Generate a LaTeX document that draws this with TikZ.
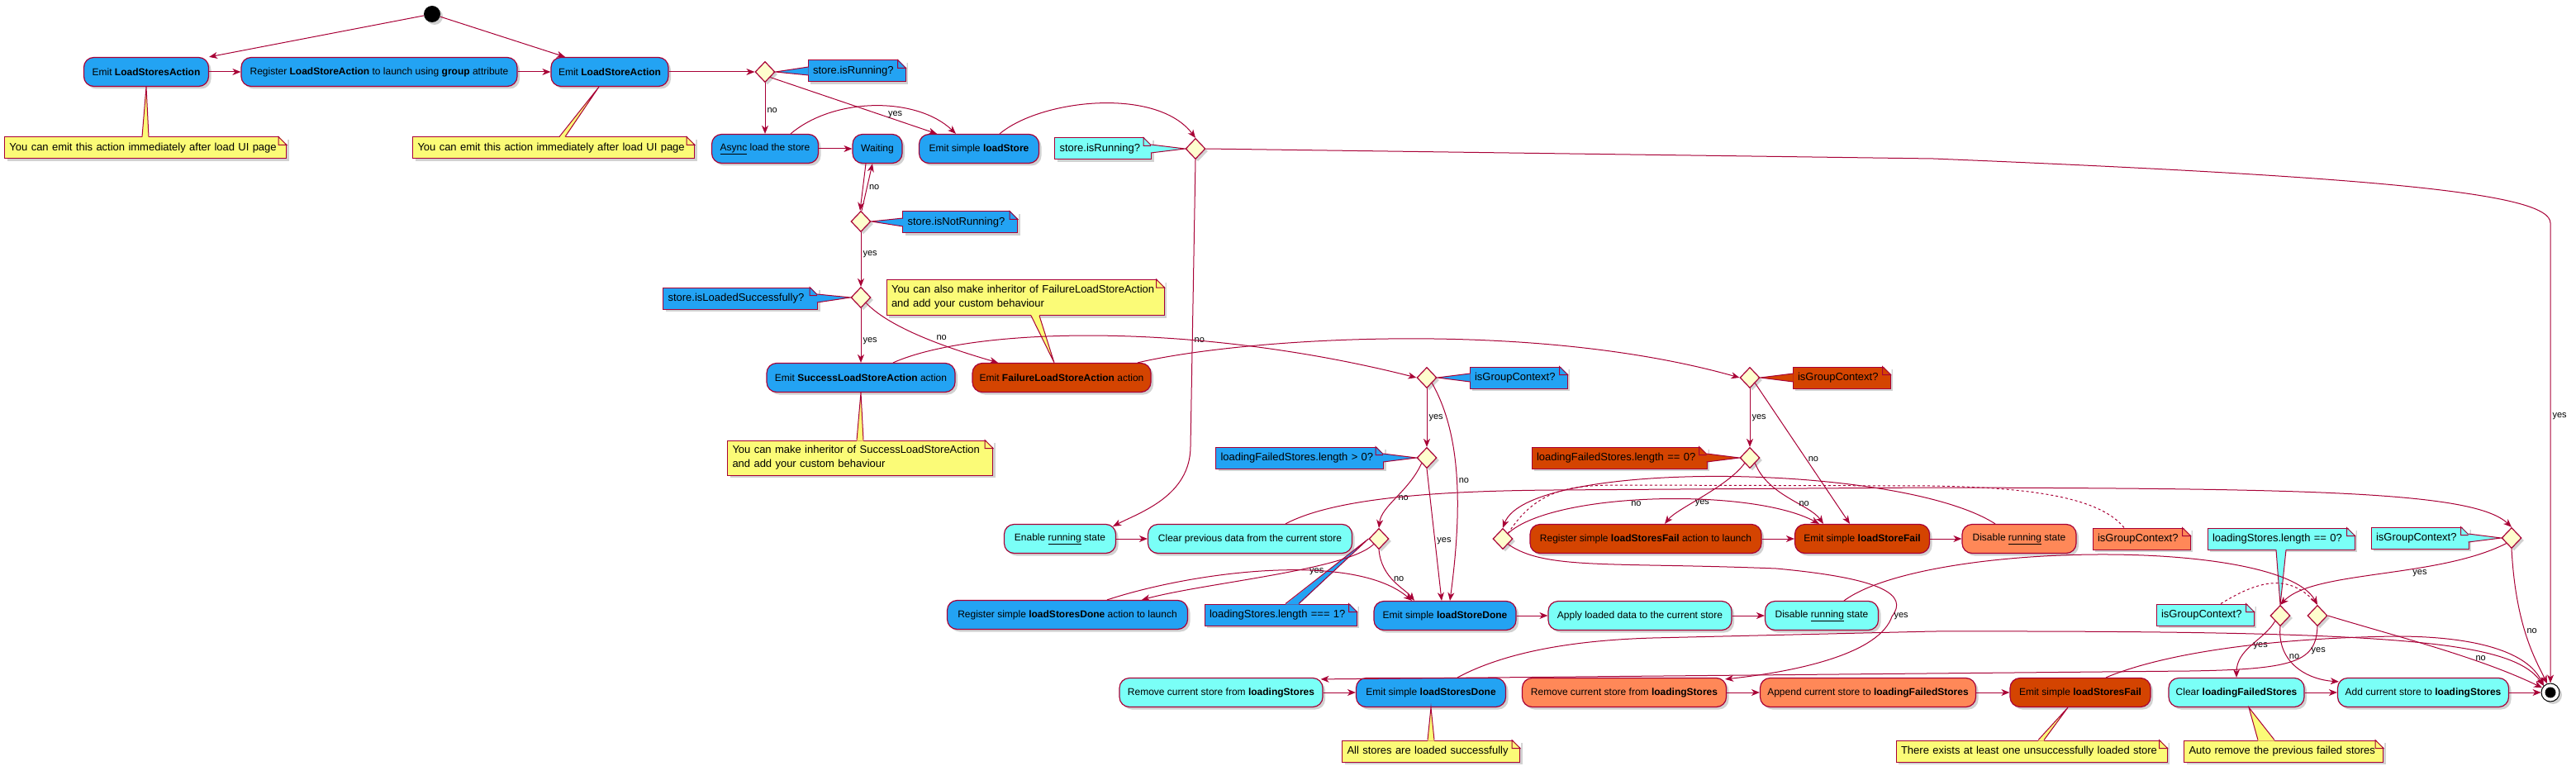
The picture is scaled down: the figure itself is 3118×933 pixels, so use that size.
\documentclass[tikz,border=0pt]{standalone}
\usepackage{fontspec}
\setmainfont{Liberation Sans}
\usetikzlibrary{arrows.meta,shapes.geometric,shadows}

\definecolor{umlred}{HTML}{A80036}
\definecolor{actblue}{HTML}{23A3F3}
\definecolor{actcyan}{HTML}{7AFFF7}
\definecolor{actred}{HTML}{D44401}
\definecolor{actorange}{HTML}{FF8858}
\definecolor{noteyellow}{HTML}{FBFB77}
\definecolor{condfill}{HTML}{FEFECE}

\tikzset{
  umlshadow/.style={drop shadow={shadow xshift=3pt,shadow yshift=-3pt,opacity=.3,fill=black!60}},
  act/.style={draw=umlred, line width=1.2pt, rounded corners=12pt, minimum height=35pt, inner xsep=0pt, font=\fontsize{12}{14}\selectfont, umlshadow},
  blueact/.style={act, fill=actblue},
  cyanact/.style={act, fill=actcyan},
  redact/.style={act, fill=actred},
  orangeact/.style={act, fill=actorange},
  cond/.style={diamond, draw=umlred, line width=1.2pt, fill=condfill, minimum width=24pt, minimum height=25pt, inner sep=0pt, umlshadow},
  note/.style={draw=umlred, line width=1pt, minimum height=26pt, inner xsep=6pt, align=left, font=\fontsize{13}{17}\selectfont, umlshadow},
  flow/.style={draw=umlred, line width=1pt, -{Stealth[length=10pt,width=8pt,inset=3pt]}},
  dashlink/.style={draw=umlred, line width=1pt, dashed},
  wedge/.style={draw=umlred, line width=1pt},
  lbl/.style={font=\fontsize{11}{13}\selectfont, inner sep=2pt},
}

\begin{document}
\begin{tikzpicture}[x=1pt,y=-1pt]
\useasboundingbox (0,0) rectangle (3118,933);

%Start
\node[circle, fill=black, minimum size=20pt, inner sep=0pt, umlshadow] (start) at (523,17) {};

% Text Node
\node[blueact, minimum width=151pt] (emitStores) at (177,87) {Emit \textbf{LoadStoresAction}};
\node[blueact, minimum width=334pt] (registerGroup) at (459,87) {Register \textbf{LoadStoreAction} to launch using \textbf{group} attribute};
\node[blueact, minimum width=142pt] (emitStore) at (738,87) {Emit \textbf{LoadStoreAction}};
\node[note, fill=noteyellow, text width=329pt] (noteEmitStores) at (176,179) {You can emit this action immediately after load UI page};
\node[note, fill=noteyellow, text width=329pt] (noteEmitStore) at (670,179) {You can emit this action immediately after load UI page};

%Shape: Diamond
\node[cond] (ifRunning) at (926,87) {};
\node[note, fill=actblue, text width=106pt] (noteRunning) at (1037,86) {store.isRunning?};
\node[blueact, minimum width=129pt] (asyncLoad) at (926,180) {\underline{Async} load the store};
\node[blueact, minimum width=60pt] (waiting) at (1062,180) {Waiting};
\node[blueact, minimum width=145pt] (emitSimpleLoad) at (1185,180) {Emit simple \textbf{loadStore}};
\node[cond] (ifRunningAgain) at (1447,180) {};
\node[note, fill=actcyan, text width=105pt] (noteRunningAgain) at (1335,180) {store.isRunning?};
\node[cond] (ifNotRunning) at (1042,268) {};
\node[note, fill=actblue, text width=127pt] (noteNotRunning) at (1162,269) {store.isNotRunning?};
\node[cond] (ifLoaded) at (1042,360) {};
\node[note, fill=actblue, text width=175pt] (noteLoaded) at (896,361) {store.isLoadedSuccessfully?};

% Text Node
\node[blueact, minimum width=228pt] (emitSuccess) at (1042,457) {Emit \textbf{SuccessLoadStoreAction} action};
\node[redact, minimum width=216pt] (emitFailure) at (1285,457) {Emit \textbf{FailureLoadStoreAction} action};
\node[note, fill=noteyellow, text width=324pt, minimum height=43pt] (noteFailure) at (1241,360) {You can also make inheritor of FailureLoadStoreAction\\and add your custom behaviour};
\node[note, fill=noteyellow, text width=309pt, minimum height=42pt] (noteSuccess) at (1041,554) {You can make inheritor of SuccessLoadStoreAction\\and add your custom behaviour};

%Shape: Diamond
\node[cond] (ifGroupOk) at (1727,457) {};
\node[note, fill=actblue, text width=106pt] (noteGroupOk) at (1838,457) {isGroupContext?};
\node[cond] (ifFailedAny) at (1727,554) {};
\node[note, fill=actblue, text width=191pt] (noteFailedAny) at (1573,554) {loadingFailedStores.length > 0?};
\node[cond] (ifGroupFail) at (2118,457) {};
\node[note, fill=actred, text width=106pt] (noteGroupFail) at (2229,457) {isGroupContext?};
\node[cond] (ifFailedNone) at (2118,554) {};
\node[note, fill=actred, text width=200pt] (noteFailedNone) at (1960,554) {loadingFailedStores.length == 0?};

% Text Node
\node[cyanact, minimum width=135pt] (enableRun) at (1283,652) {Enable \underline{running} state};
\node[cyanact, minimum width=247pt] (clearData) at (1513,652) {Clear previous data from the current store};
\node[cond] (ifLastStore) at (1669,652) {};
\node[note, fill=actblue, text width=172pt] (noteLastStore) at (1550,744) {loadingStores.length === 1?};
\node[cond] (ifGroupErr) at (1819,652) {};
\node[redact, minimum width=280pt] (registerFail) at (1992,652) {Register simple \textbf{loadStoresFail} action to launch};
\node[redact, minimum width=163pt] (emitFail) at (2254,652) {Emit simple \textbf{loadStoreFail}};
\node[orangeact, minimum width=138pt] (disableFail) at (2444,652) {Disable \underline{running} state};
\node[note, fill=actorange, text width=106pt] (noteGroupErr) at (2592,652) {isGroupContext?};
\node[note, fill=actcyan, text width=166pt] (noteLoadingEmpty) at (2761,652) {loadingStores.length == 0?};
\node[note, fill=actcyan, text width=106pt] (noteGroupStart) at (2929,651) {isGroupContext?};
\node[cond] (ifGroupStart) at (3040,651) {};

\node[blueact, minimum width=291pt] (registerDone) at (1292,744) {Register simple \textbf{loadStoresDone} action to launch};
\node[blueact, minimum width=172pt] (emitDone) at (1749,745) {Emit simple \textbf{loadStoreDone}};
\node[cyanact, minimum width=222pt] (applyData) at (1985,745) {Apply loaded data to the current store};
\node[cyanact, minimum width=137pt] (disableOk) at (2205,745) {Disable \underline{running} state};
\node[note, fill=actcyan, text width=106pt] (noteGroupDone) at (2669,744) {isGroupContext?};
\node[cond] (ifLoadingEmpty) at (2760,745) {};
\node[cond] (ifGroupDone) at (2805,745) {};

\node[cyanact, minimum width=246pt] (removeOk) at (1478,838) {Remove current store from \textbf{loadingStores}};
\node[blueact, minimum width=181pt] (emitAllDone) at (1732,838) {Emit simple \textbf{loadStoresDone}};
\node[orangeact, minimum width=247pt] (removeFail) at (1966,838) {Remove current store from \textbf{loadingStores}};
\node[orangeact, minimum width=261pt] (appendFail) at (2261,838) {Append current store to \textbf{loadingFailedStores}};
\node[redact, minimum width=170pt] (emitAllFail) at (2518,838) {Emit simple \textbf{loadStoresFail}};
\node[cyanact, minimum width=164pt] (clearFailed) at (2707,838) {Clear \textbf{loadingFailedStores}};
\node[cyanact, minimum width=207pt] (addLoading) at (2933,838) {Add current store to \textbf{loadingStores}};
\node[note, fill=noteyellow, text width=203pt] (noteAllDone) at (1732,909) {All stores are loaded successfully};
\node[note, fill=noteyellow, text width=316pt] (noteAllFail) at (2459,909) {There exists at least one unsuccessfully loaded store};
\node[note, fill=noteyellow, text width=229pt] (noteAutoRemove) at (2764,909) {Auto remove the previous failed stores};

%End
\node[circle, draw=black, line width=1pt, fill=white, minimum size=22pt, inner sep=0pt, umlshadow,
  path picture={\fill[black] (path picture bounding box.center) circle (6.5pt);}] (stop) at (3087,838) {};

% folded corners of the notes
\foreach \nte in {noteEmitStores, noteEmitStore, noteRunning, noteRunningAgain, noteNotRunning, noteLoaded, noteFailure, noteSuccess, noteGroupOk, noteFailedAny, noteGroupFail, noteFailedNone, noteLastStore, noteGroupErr, noteLoadingEmpty, noteGroupStart, noteGroupDone, noteAllDone, noteAllFail, noteAutoRemove} {
  \fill[white] ([xshift=-10pt,yshift=1pt]\nte.north east) -- ([xshift=1pt,yshift=1pt]\nte.north east) -- ([xshift=1pt,yshift=-10pt]\nte.north east) -- cycle;
  \draw[wedge] ([xshift=-10pt]\nte.north east) |- ([yshift=-10pt]\nte.north east) -- cycle;
}

% pointers of the notes
\foreach \cnd/\nte/\col in {ifRunning/noteRunning/actblue, ifNotRunning/noteNotRunning/actblue, ifGroupOk/noteGroupOk/actblue, ifGroupFail/noteGroupFail/actred} {
  \fill[fill=\col] ([xshift=1pt,yshift=5pt]\nte.west) -- (\cnd.east) -- ([xshift=1pt,yshift=-5pt]\nte.west) -- cycle;
  \draw[wedge] ([xshift=1pt,yshift=5pt]\nte.west) -- (\cnd.east) -- ([xshift=1pt,yshift=-5pt]\nte.west);
}
\foreach \cnd/\nte/\col in {ifRunningAgain/noteRunningAgain/actcyan, ifLoaded/noteLoaded/actblue, ifFailedAny/noteFailedAny/actblue, ifFailedNone/noteFailedNone/actred, ifGroupStart/noteGroupStart/actcyan} {
  \fill[fill=\col] ([xshift=-1pt,yshift=5pt]\nte.east) -- (\cnd.west) -- ([xshift=-1pt,yshift=-5pt]\nte.east) -- cycle;
  \draw[wedge] ([xshift=-1pt,yshift=5pt]\nte.east) -- (\cnd.west) -- ([xshift=-1pt,yshift=-5pt]\nte.east);
}
\fill[actblue] ([xshift=6pt,yshift=-1pt]noteLastStore.north) -- (ifLastStore.west) -- ([xshift=22pt,yshift=-1pt]noteLastStore.north) -- cycle;
\draw[wedge] ([xshift=6pt]noteLastStore.north) -- (ifLastStore.west) -- ([xshift=22pt]noteLastStore.north);
\fill[actcyan] ([xshift=-6pt,yshift=1pt]noteLoadingEmpty.south) -- (ifLoadingEmpty.north) -- ([xshift=6pt,yshift=1pt]noteLoadingEmpty.south) -- cycle;
\draw[wedge] ([xshift=-6pt]noteLoadingEmpty.south) -- (ifLoadingEmpty.north) -- ([xshift=6pt]noteLoadingEmpty.south);
\foreach \bx/\nte/\tx/\bl/\br in {emitStores/noteEmitStores/0pt/-4pt/4pt, emitStore/noteEmitStore/-13pt/7pt/14pt, emitSuccess/noteSuccess/0pt/-4pt/4pt, emitAllDone/noteAllDone/0pt/-4pt/4pt, emitAllFail/noteAllFail/-15pt/8pt/15pt, clearFailed/noteAutoRemove/15pt/-31pt/-11pt} {
  \fill[noteyellow] ([xshift=\bl,yshift=-1pt]\nte.north) -- ([xshift=\tx]\bx.south) -- ([xshift=\br,yshift=-1pt]\nte.north) -- cycle;
  \draw[wedge] ([xshift=\bl]\nte.north) -- ([xshift=\tx]\bx.south) -- ([xshift=\br]\nte.north);
}
\fill[noteyellow] ([xshift=7pt,yshift=1pt]noteFailure.south) -- ([xshift=-9pt]emitFailure.north) -- ([xshift=17pt,yshift=1pt]noteFailure.south) -- cycle;
\draw[wedge] ([xshift=7pt]noteFailure.south) -- ([xshift=-9pt]emitFailure.north) -- ([xshift=17pt]noteFailure.south);

%Straight Lines
\draw[flow] (start) -- (emitStores.north east);
\draw[flow] (start) -- ([xshift=-54pt]emitStore.north);
\draw[flow] (emitStores) -- (registerGroup);
\draw[flow] (registerGroup) -- (emitStore);
\draw[flow] (emitStore) -- (ifRunning);
\draw[flow] (ifRunning) -- node[lbl, right, pos=.55] {no} (asyncLoad);
\draw[flow] (ifRunning.south east) -- node[lbl, above, pos=.75] {yes} ([xshift=-51pt]emitSimpleLoad.north);
\draw[flow] (asyncLoad) -- (waiting);
\draw[flow] ([xshift=31pt]asyncLoad.north) .. controls (1010,117) and (1110,117) .. ([xshift=-28pt]emitSimpleLoad.north);
\draw[flow] ([xshift=-14pt]waiting.south) -- ([xshift=-1pt]ifNotRunning.north);
\draw[flow] ([xshift=1pt]ifNotRunning.north) -- node[lbl, right] {no} ([xshift=-6pt]waiting.south);
\draw[flow] (ifNotRunning) -- node[lbl, right, pos=.4] {yes} (ifLoaded);
\draw[flow] (ifLoaded) -- node[lbl, right, pos=.6] {yes} (emitSuccess);
\draw[flow] (ifLoaded.south east) .. controls (1080,400) and (1160,425) .. node[lbl, above right, pos=.55] {no} ([xshift=-77pt]emitFailure.north);
\draw[flow] ([xshift=25pt]emitSimpleLoad.north) .. controls (1260,120) and (1400,105) .. (ifRunningAgain.north);
\draw[flow] (ifRunningAgain.east) -- (2340,192) .. controls (2900,215) and (3087,235) .. (3087,270) -- node[lbl, right, pos=.42] {yes} (stop.north);
\draw[flow] (ifRunningAgain.south) -- node[lbl, right, pos=.63] {no} (1441,540) .. controls (1441,600) and (1380,620) .. ([xshift=-4pt,yshift=-3pt]enableRun.north east);

% success and failure actions
\draw[flow] ([xshift=39pt]emitSuccess.north) .. controls (1180,395) and (1450,390) .. (ifGroupOk.west);
\draw[flow] ([xshift=92pt]emitFailure.north) .. controls (1500,410) and (1850,385) .. (ifGroupFail.west);
\draw[flow] (ifGroupOk) -- node[lbl, right] {yes} (ifFailedAny);
\draw[flow] (ifGroupOk.south east) .. controls (1765,520) and (1772,600) .. node[lbl, right, pos=.55] {no} ([xshift=6pt]emitDone.north);
\draw[flow] (ifFailedAny.south) -- node[lbl, right, pos=.55] {yes} ([xshift=-4pt]emitDone.north);
\draw[flow] (ifFailedAny.south west) .. controls (1705,595) and (1672,612) .. node[lbl, right, pos=.5] {no} (ifLastStore.north);
\draw[flow] (ifLastStore.south west) .. controls (1630,690) and (1460,705) .. node[lbl, below, pos=.33] {yes} ([xshift=90pt]registerDone.north);
\draw[flow] (ifLastStore.south) .. controls (1672,700) and (1700,712) .. node[lbl, right, pos=.45] {no} ([xshift=-37pt]emitDone.north);
\draw[flow] ([xshift=48pt]registerDone.north) .. controls (1450,690) and (1640,668) .. ([xshift=-40pt]emitDone.north);
\draw[flow] (ifGroupFail) -- node[lbl, right] {yes} (ifFailedNone);
\draw[flow] (ifGroupFail.south east) -- node[lbl, right, pos=.54] {no} ([xshift=-15pt]emitFail.north);
\draw[flow] (ifFailedNone.south west) .. controls (2090,590) and (2030,615) .. node[lbl, right, pos=.6] {yes} ([xshift=23pt]registerFail.north);
\draw[flow] (ifFailedNone.south east) .. controls (2140,600) and (2190,610) .. node[lbl, right, pos=.6] {no} ([xshift=-47pt]emitFail.north);

% running state
\draw[flow] (enableRun) -- (clearData);
\draw[flow] ([xshift=43pt]clearData.north) .. controls (1620,600) and (1760,594) .. (1880,593) -- (2340,590) .. controls (2800,591) and (2995,595) .. (ifGroupStart.north);
\draw[flow] (ifGroupStart.south west) .. controls (2950,700) and (2800,690) .. node[lbl, below, pos=.35] {yes} (ifLoadingEmpty.north);
\draw[flow] (ifGroupStart.south) .. controls (3045,760) and (3070,800) .. node[lbl, right, pos=.45] {no} (stop.110);
\draw[flow] (ifLoadingEmpty.south west) .. controls (2740,775) and (2707,785) .. node[lbl, right, pos=.5] {yes} (clearFailed.north);
\draw[flow] (ifLoadingEmpty.south) .. controls (2756,800) and (2790,822) .. node[lbl, right, pos=.35] {no} ([xshift=2pt,yshift=-5pt]addLoading.north west);
\draw[flow] (clearFailed) -- (addLoading);
\draw[flow] (addLoading) -- (stop);

% failed stores
\draw[flow] (registerFail) -- (emitFail);
\draw[flow] (emitFail) -- (disableFail);
\draw[flow] ([xshift=-29pt]disableFail.north) .. controls (2300,560) and (1850,555) .. (ifGroupErr.north);
\draw[flow] (ifGroupErr.north east) .. controls (1880,595) and (2120,590) .. node[lbl, below, inner sep=1pt, pos=.45] {no} ([xshift=-52pt]emitFail.north);
\draw[dashlink] (ifGroupErr.north east) .. controls (1860,592) and (1900,587) .. (1960,587) -- (2340,588) .. controls (2450,590) and (2540,600) .. ([xshift=-21pt]noteGroupErr.north);
\draw[flow] (ifGroupErr.south east) .. controls (1870,690) and (1950,680) .. (2150,688) .. controls (2280,700) and (2310,720) .. (2290,746) node[lbl, right] {yes} .. controls (2275,790) and (2180,812) .. ([xshift=-2pt,yshift=-2pt]removeFail.north east);
\draw[flow] (removeFail) -- (appendFail);
\draw[flow] (appendFail) -- (emitAllFail);
\draw[flow] ([xshift=31pt]emitAllFail.north) .. controls (2620,790) and (2750,772) .. (2900,770) .. controls (3000,770) and (3060,790) .. (stop.north west);

% loaded stores
\draw[flow] (emitDone) -- (applyData);
\draw[flow] (applyData) -- (disableOk);
\draw[flow] ([xshift=27pt]disableOk.north) .. controls (2330,655) and (2760,650) .. (ifGroupDone.north);
\draw[dashlink] ([xshift=19pt]noteGroupDone.north) .. controls (2730,705) and (2770,690) .. (ifGroupDone.north);
\draw[flow] (ifGroupDone.south) .. controls (2803,800) and (2780,810) .. node[lbl, right, pos=.3] {yes} (2650,812) -- ([xshift=-3pt,yshift=-2pt]removeOk.north east);
\draw[flow] (ifGroupDone.east) .. controls (2900,770) and (3000,795) .. node[lbl, above, pos=.7] {no} (stop.150);
\draw[flow] (removeOk) -- (emitAllDone);
\draw[flow] ([xshift=32pt]emitAllDone.north) .. controls (1820,790) and (1900,775) .. (2000,772) -- (2340,764) .. controls (2900,763) and (3040,775) .. (stop.north west);

\end{tikzpicture}
\end{document}
